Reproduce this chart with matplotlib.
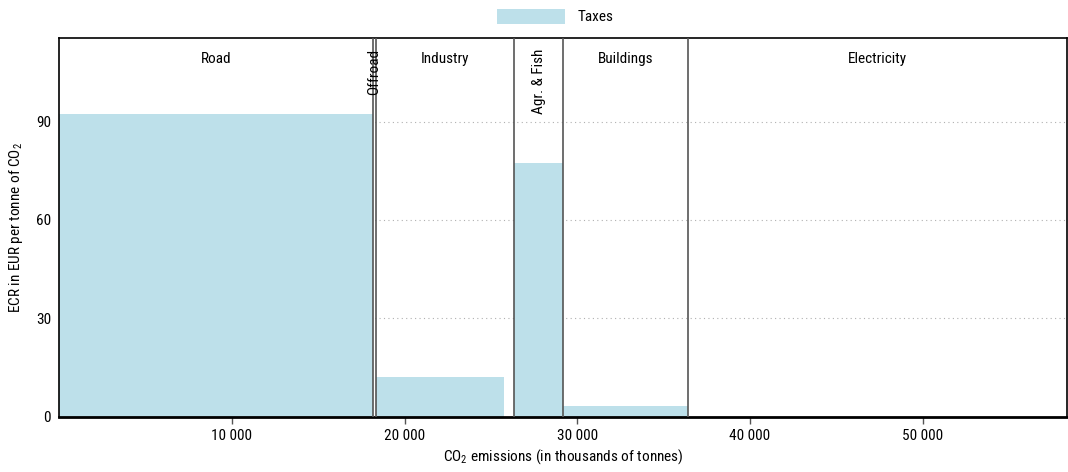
import matplotlib
matplotlib.use("Agg")
import matplotlib.pyplot as plt
from matplotlib.ticker import FuncFormatter

# Sectors: name, start/end of emissions (thousand tonnes)
sectors = ["Road", "Offroad", "Industry", "Agr. & Fish", "Buildings", "Electricity"]
sector_bounds = [0, 18150, 18320, 26350, 29190, 36430, 58370]
label_rotated = [False, True, False, True, False, False]

# Taxed segments: left edge, width, ECR value
seg_left = [0, 18150, 18320, 25770, 26350, 29190, 36430]
seg_width = [18150, 170, 7450, 580, 2840, 7240, 21940]
seg_value = [92.3, 0, 12.2, 0, 77.5, 3.4, 0]

yticks = [0, 30, 60, 90]
xticks = [10000, 20000, 30000, 40000, 50000]

FONT = 'Roboto Condensed'
plt.rcParams['font.family'] = [FONT, 'Liberation Sans', 'DejaVu Sans']
plt.rcParams['mathtext.fontset'] = 'custom'
plt.rcParams['mathtext.rm'] = FONT
plt.rcParams['mathtext.it'] = FONT
plt.rcParams['mathtext.bf'] = FONT
plt.rcParams['font.size'] = 11

fig = plt.figure(figsize=(10.68, 4.72), dpi=100)
ax = fig.add_axes([59.3/1068, 1 - 416.7/472, (1067 - 59.3)/1068, (416.7 - 38)/472])

bar_color = "#bde0ea"
ax.bar(seg_left, seg_value, width=seg_width, align="edge", color=bar_color,
       linewidth=0, label="Taxes", zorder=2)

ax.set_xlim(sector_bounds[0], sector_bounds[-1])
ax.set_ylim(0, 115.5)

for b in sector_bounds[1:-1]:
    ax.axvline(b, color="#555555", lw=1.2, zorder=3)

for i, name in enumerate(sectors):
    cx = (sector_bounds[i] + sector_bounds[i + 1]) / 2
    if label_rotated[i]:
        ax.text(cx, 112.3, name, rotation=90, ha="center", va="top", zorder=4)
    else:
        ax.text(cx, 109, name, ha="center", va="center", zorder=4)

ax.set_yticks(yticks)
ax.set_xticks(xticks)
ax.xaxis.set_major_formatter(FuncFormatter(lambda v, p: f"{int(v):,}".replace(",", " ")))
ax.grid(axis="y", color="#b0b0b0", linestyle=(0, (1, 3)), linewidth=0.8, zorder=1)
ax.tick_params(axis="y", length=0, pad=6)
ax.tick_params(axis="x", length=5, width=1, color="#555555", pad=4)

for s in ["left", "right", "top"]:
    ax.spines[s].set_linewidth(1.2)
    ax.spines[s].set_color("black")
ax.spines["bottom"].set_linewidth(2)

ax.set_xlabel("CO$_2$ emissions (in thousands of tonnes)", labelpad=3)
ax.set_ylabel("ECR in EUR per tonne of CO$_2$", labelpad=8)

leg = fig.legend(loc="center", bbox_to_anchor=(555/1068, 1 - 16.5/472), frameon=False,
                 handlelength=4.5, handleheight=1.2)

fig.savefig("out.png", dpi=100)
